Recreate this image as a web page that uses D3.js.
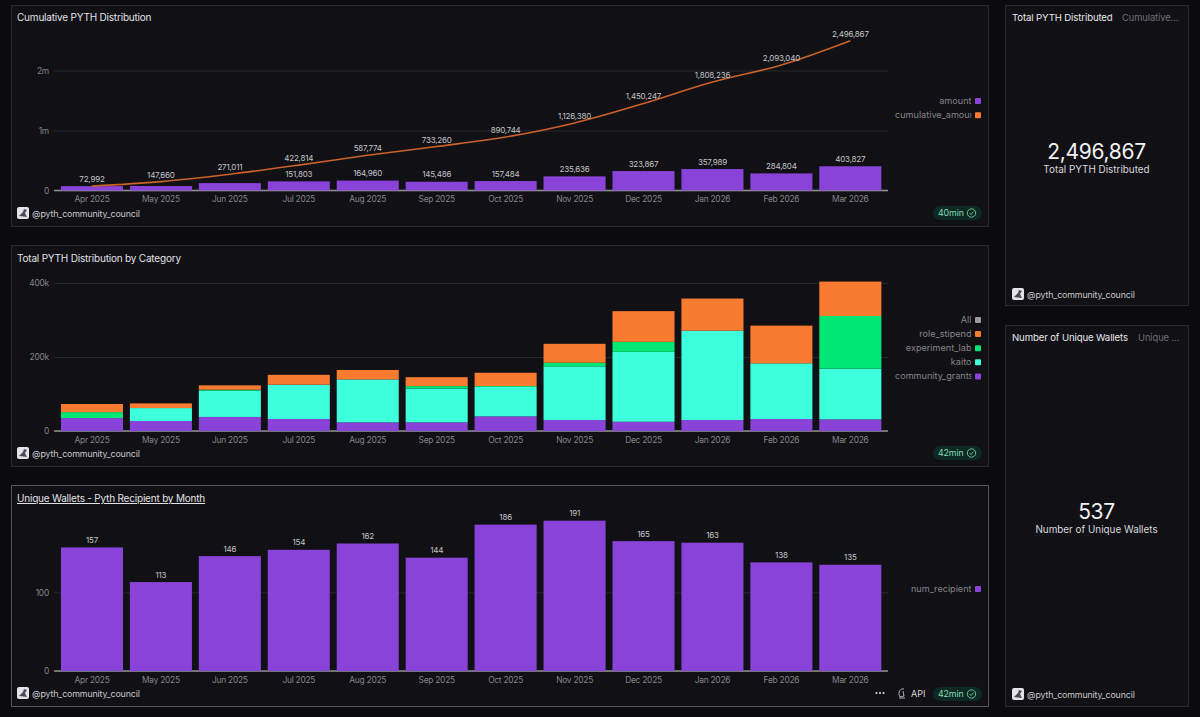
<!DOCTYPE html>
<html>
<head>
  <meta charset="utf-8">
  <script src="https://d3js.org/d3.v7.min.js"></script>
  <style>
    body { margin: 0; background: #0b0b0f; overflow: hidden; }
    svg { display: block; font-family: Inter, "Noto Sans", sans-serif; }
    .domain { display: none; }
  </style>
</head>
<body>
  <svg width="1200" height="717"></svg>
  <script>
    // values
    var months = ['Apr 2025', 'May 2025', 'Jun 2025', 'Jul 2025', 'Aug 2025', 'Sep 2025', 'Oct 2025', 'Nov 2025', 'Dec 2025', 'Jan 2026', 'Feb 2026', 'Mar 2026'];
    var amount = [72992, 74668, 123351, 151803, 164960, 145486, 157484, 235636, 323867, 357989, 284804, 403827];
    var cumulativeAmount = [72992, 147660, 271011, 422814, 587774, 733260, 890744, 1126380, 1450247, 1808236, 2093040, 2496867];
    // the first three amount labels are hidden in the original
    var amountLabelFrom = 3;

    var communityGrants = [35000, 27000, 38000, 32400, 23400, 23400, 39600, 29700, 25000, 29700, 32400, 31500];
    var kaito = [0, 35000, 71000, 92800, 116000, 91000, 79300, 145000, 189000, 241400, 150500, 137000];
    var experimentLab = [16000, 0, 2500, 0, 0, 7000, 2500, 9900, 27000, 0, 0, 142300];
    var roleStipend = [21992, 12668, 11851, 26603, 25560, 24086, 36084, 51036, 82867, 86889, 101904, 93027];

    var numRecipient = [157, 113, 146, 154, 162, 144, 186, 191, 165, 163, 138, 135];

    var ticksCumulative = [0, 1000000, 2000000];
    var ticksCategory = [0, 200000, 400000];
    var ticksWallets = [0, 100];

    var purple = '#8a43d9', orange = '#f97b30', green = '#02e675', teal = '#3dffdc', lineColor = '#cc6229';
    var owner = '@pyth_community_council';

    var svg = d3.select('svg');
    var plotLeft = 54, plotRight = 888;

    var x = d3.scaleBand().domain(months).range([57.5, 884.8]).paddingInner(0.1).paddingOuter(0.05);

    function panel(px, py, w, h, border) {
      svg.append('rect')
        .attr('x', px + 0.5).attr('y', py + 0.5).attr('width', w).attr('height', h)
        .attr('fill', '#101015').attr('stroke', border || '#29292f');
    }

    function title(text, px, py, underline) {
      svg.append('text').attr('x', px).attr('y', py)
        .attr('font-size', 10).attr('letter-spacing', -0.2).attr('fill', '#e2e2e4')
        .attr('text-decoration', underline ? 'underline' : null)
        .text(text);
    }

    function ownerTag(px, py) {
      var g = svg.append('g').attr('transform', 'translate(' + [px, py] + ')');
      g.append('rect').attr('width', 12).attr('height', 12).attr('rx', 2).attr('fill', '#e4e4e8');
      g.append('path').attr('d', 'M2 9 L6 5 L7 2 L10 3 L8 6 L10 10 Z').attr('fill', '#4a4a58');
      g.append('text').attr('x', 15).attr('y', 9.5)
        .attr('font-size', 8.8).attr('letter-spacing', -0.12).attr('fill', '#c9c9cd').text(owner);
    }

    function badge(label, py) {
      var g = svg.append('g').attr('transform', 'translate(933,' + py + ')');
      g.append('rect').attr('width', 49).attr('height', 14).attr('rx', 7).attr('fill', '#0c2a23');
      g.append('text').attr('x', 5).attr('y', 10.2)
        .attr('font-size', 8.8).attr('letter-spacing', -0.1).attr('fill', '#85dcb6').text(label);
      g.append('circle').attr('cx', 38.5).attr('cy', 7).attr('r', 4.2)
        .attr('fill', 'none').attr('stroke', '#85dcb6').attr('stroke-width', 0.8);
      g.append('path').attr('d', 'M36.6 7 L38 8.5 L40.6 5.6')
        .attr('fill', 'none').attr('stroke', '#85dcb6').attr('stroke-width', 0.8);
    }

    function axes(y, ticks, fmt) {
      var y0 = y(0);
      var gy = svg.append('g').attr('transform', 'translate(' + plotLeft + ',0)')
        .call(d3.axisLeft(y).tickValues(ticks).tickFormat(fmt).tickSize(-(plotRight - plotLeft)).tickPadding(5));
      gy.selectAll('line').attr('stroke', '#26262c');
      gy.selectAll('text').attr('font-size', 8.4).attr('letter-spacing', -0.2).attr('fill', '#85858b').attr('font-family', 'Inter');
      svg.append('line').attr('x1', plotLeft).attr('x2', plotRight).attr('y1', y0).attr('y2', y0)
        .attr('stroke', '#8f8f93').attr('stroke-width', 1.3);
    }

    function monthAxis(y0) {
      var gx = svg.append('g').attr('transform', 'translate(0,' + y0 + ')')
        .call(d3.axisBottom(x).tickSize(0).tickPadding(6));
      gx.selectAll('text').attr('font-size', 8.4).attr('letter-spacing', -0.25).attr('fill', '#85858b').attr('font-family', 'Inter');
    }

    function legend(names, colors, top, gap, id) {
      var right = 971.5, maxW = 76.5;
      svg.append('clipPath').attr('id', id).append('rect')
        .attr('x', right - maxW).attr('y', top - 10).attr('width', maxW).attr('height', gap * names.length + 20);
      names.forEach(function (name, i) {
        var ly = top + i * gap;
        var t = svg.append('text').attr('clip-path', 'url(#' + id + ')')
          .attr('y', ly + 3).attr('font-size', 9.1).attr('fill', '#85858b').text(name);
        if (t.node().getComputedTextLength() > maxW) t.attr('x', right - maxW);
        else t.attr('x', right).attr('text-anchor', 'end');
        svg.append('rect').attr('x', 975).attr('y', ly - 3).attr('width', 6).attr('height', 6).attr('rx', 1)
          .attr('fill', colors[i]);
      });
    }

    function valueLabels(sel, xf, yf, textf) {
      sel.append('text').attr('x', xf).attr('y', yf).attr('text-anchor', 'middle')
        .attr('font-size', 8).attr('letter-spacing', -0.2).attr('fill', '#c4c4c8').text(textf);
    }

    // ---- panels
    panel(11, 5, 977, 221);
    panel(11, 245, 977, 221);
    panel(11, 485, 977, 221, '#55555b');
    panel(1005, 5, 183, 300);
    panel(1005, 325, 183, 381);

    // ---- cumulative chart
    var fmtNum = d3.format(',');
    var y1 = d3.scaleLinear().domain([0, 2600000]).range([190.5, 34.5]);
    title('Cumulative PYTH Distribution', 17, 21);
    axes(y1, ticksCumulative, function (d) { return d === 0 ? '0' : (d / 1e6) + 'm'; });
    svg.append('g').selectAll('rect').data(amount).enter().append('rect')
      .attr('x', function (d, i) { return x(months[i]); })
      .attr('y', function (d) { return y1(d); })
      .attr('width', x.bandwidth())
      .attr('height', function (d) { return y1(0) - y1(d); })
      .attr('fill', purple);
    var line = d3.line()
      .x(function (d, i) { return x(months[i]) + x.bandwidth() / 2; })
      .y(function (d) { return y1(d); })
      .curve(d3.curveMonotoneX);
    svg.append('path').datum(cumulativeAmount).attr('d', line)
      .attr('fill', 'none').attr('stroke', lineColor).attr('stroke-width', 1.6);
    monthAxis(190.5);
    valueLabels(svg.append('g').selectAll('text').data(amount.slice(amountLabelFrom)).enter(),
      function (d, i) { return x(months[i + amountLabelFrom]) + x.bandwidth() / 2; },
      function (d) { return y1(d) - 4.5; },
      function (d) { return fmtNum(d); });
    valueLabels(svg.append('g').selectAll('text').data(cumulativeAmount).enter(),
      function (d, i) { return x(months[i]) + x.bandwidth() / 2; },
      function (d) { return y1(d) - 4; },
      function (d) { return fmtNum(d); });
    legend(['amount', 'cumulative_amount'], [purple, orange], 101, 14.3, 'clip1');
    ownerTag(17, 207);
    badge('40min', 206);

    // ---- category chart
    var y2 = d3.scaleLinear().domain([0, 410000]).range([431, 279.3]);
    title('Total PYTH Distribution by Category', 17, 262);
    axes(y2, ticksCategory, function (d) { return d === 0 ? '0' : (d / 1e3) + 'k'; });
    var stackKeys = ['community_grants', 'kaito', 'experiment_lab', 'role_stipend'];
    var stackColors = [purple, teal, green, orange];
    var rows = months.map(function (m, i) {
      return { month: m, community_grants: communityGrants[i], kaito: kaito[i], experiment_lab: experimentLab[i], role_stipend: roleStipend[i] };
    });
    svg.append('g').selectAll('g').data(d3.stack().keys(stackKeys)(rows)).enter().append('g')
      .attr('fill', function (d, i) { return stackColors[i]; })
      .selectAll('rect').data(function (d) { return d; }).enter().append('rect')
      .attr('x', function (d) { return x(d.data.month); })
      .attr('y', function (d) { return y2(d[1]); })
      .attr('width', x.bandwidth())
      .attr('height', function (d) { return y2(d[0]) - y2(d[1]); });
    monthAxis(431);
    legend(['All', 'role_stipend', 'experiment_lab', 'kaito', 'community_grants'],
      ['#9b9b9f', orange, green, teal, purple], 320, 14.1, 'clip2');
    ownerTag(17, 447);
    badge('42min', 446);

    // ---- wallets chart
    var y3 = d3.scaleLinear().domain([0, 200]).range([671, 513.6]);
    title('Unique Wallets - Pyth Recipient by Month', 17, 502, true);
    axes(y3, ticksWallets, function (d) { return d; });
    svg.append('g').selectAll('rect').data(numRecipient).enter().append('rect')
      .attr('x', function (d, i) { return x(months[i]); })
      .attr('y', function (d) { return y3(d); })
      .attr('width', x.bandwidth())
      .attr('height', function (d) { return y3(0) - y3(d); })
      .attr('fill', purple);
    monthAxis(671);
    valueLabels(svg.append('g').selectAll('text').data(numRecipient).enter(),
      function (d, i) { return x(months[i]) + x.bandwidth() / 2; },
      function (d) { return y3(d) - 4.5; },
      function (d) { return d; });
    legend(['num_recipient'], [purple], 589, 14, 'clip3');
    ownerTag(17, 687);
    badge('42min', 687);
    // "..." menu and API button
    svg.append('g').selectAll('circle').data([876.5, 880, 883.5]).enter().append('circle')
      .attr('cx', function (d) { return d; }).attr('cy', 693).attr('r', 1).attr('fill', '#e8e8ea');
    svg.append('path').attr('d', 'M899 698 L905 698 M900 697 C897 692 901 688 904 689 M903 691 L904 696 L900 697')
      .attr('fill', 'none').attr('stroke', '#d8d8dc').attr('stroke-width', 0.8);
    svg.append('text').attr('x', 911).attr('y', 696.5).attr('font-size', 9).attr('fill', '#d8d8dc').text('API');

    // ---- counters
    function counter(py, name, sub, subX, value, valueY) {
      svg.append('text').attr('x', 1012).attr('y', py + 16).attr('font-size', 9.6).attr('letter-spacing', -0.12).attr('fill', '#e8e8ea').text(name);
      svg.append('text').attr('x', subX).attr('y', py + 16).attr('font-size', 9.4).attr('letter-spacing', -0.1).attr('fill', '#6f6f75').text(sub);
      svg.append('text').attr('x', 1096.5).attr('y', valueY).attr('text-anchor', 'middle')
        .attr('font-size', 21).attr('letter-spacing', -0.3).attr('fill', '#f2f2f4').text(value);
      svg.append('text').attr('x', 1096.5).attr('y', valueY + 14).attr('text-anchor', 'middle')
        .attr('font-size', 9.9).attr('fill', '#d8d8dc').text(name);
    }
    counter(5, 'Total PYTH Distributed', 'Cumulative…', 1122, fmtNum(cumulativeAmount[11]), 159);
    counter(325, 'Number of Unique Wallets', 'Unique …', 1138, '537', 519);
    ownerTag(1012, 288);
    ownerTag(1012, 688);
  </script>
</body>
</html>
